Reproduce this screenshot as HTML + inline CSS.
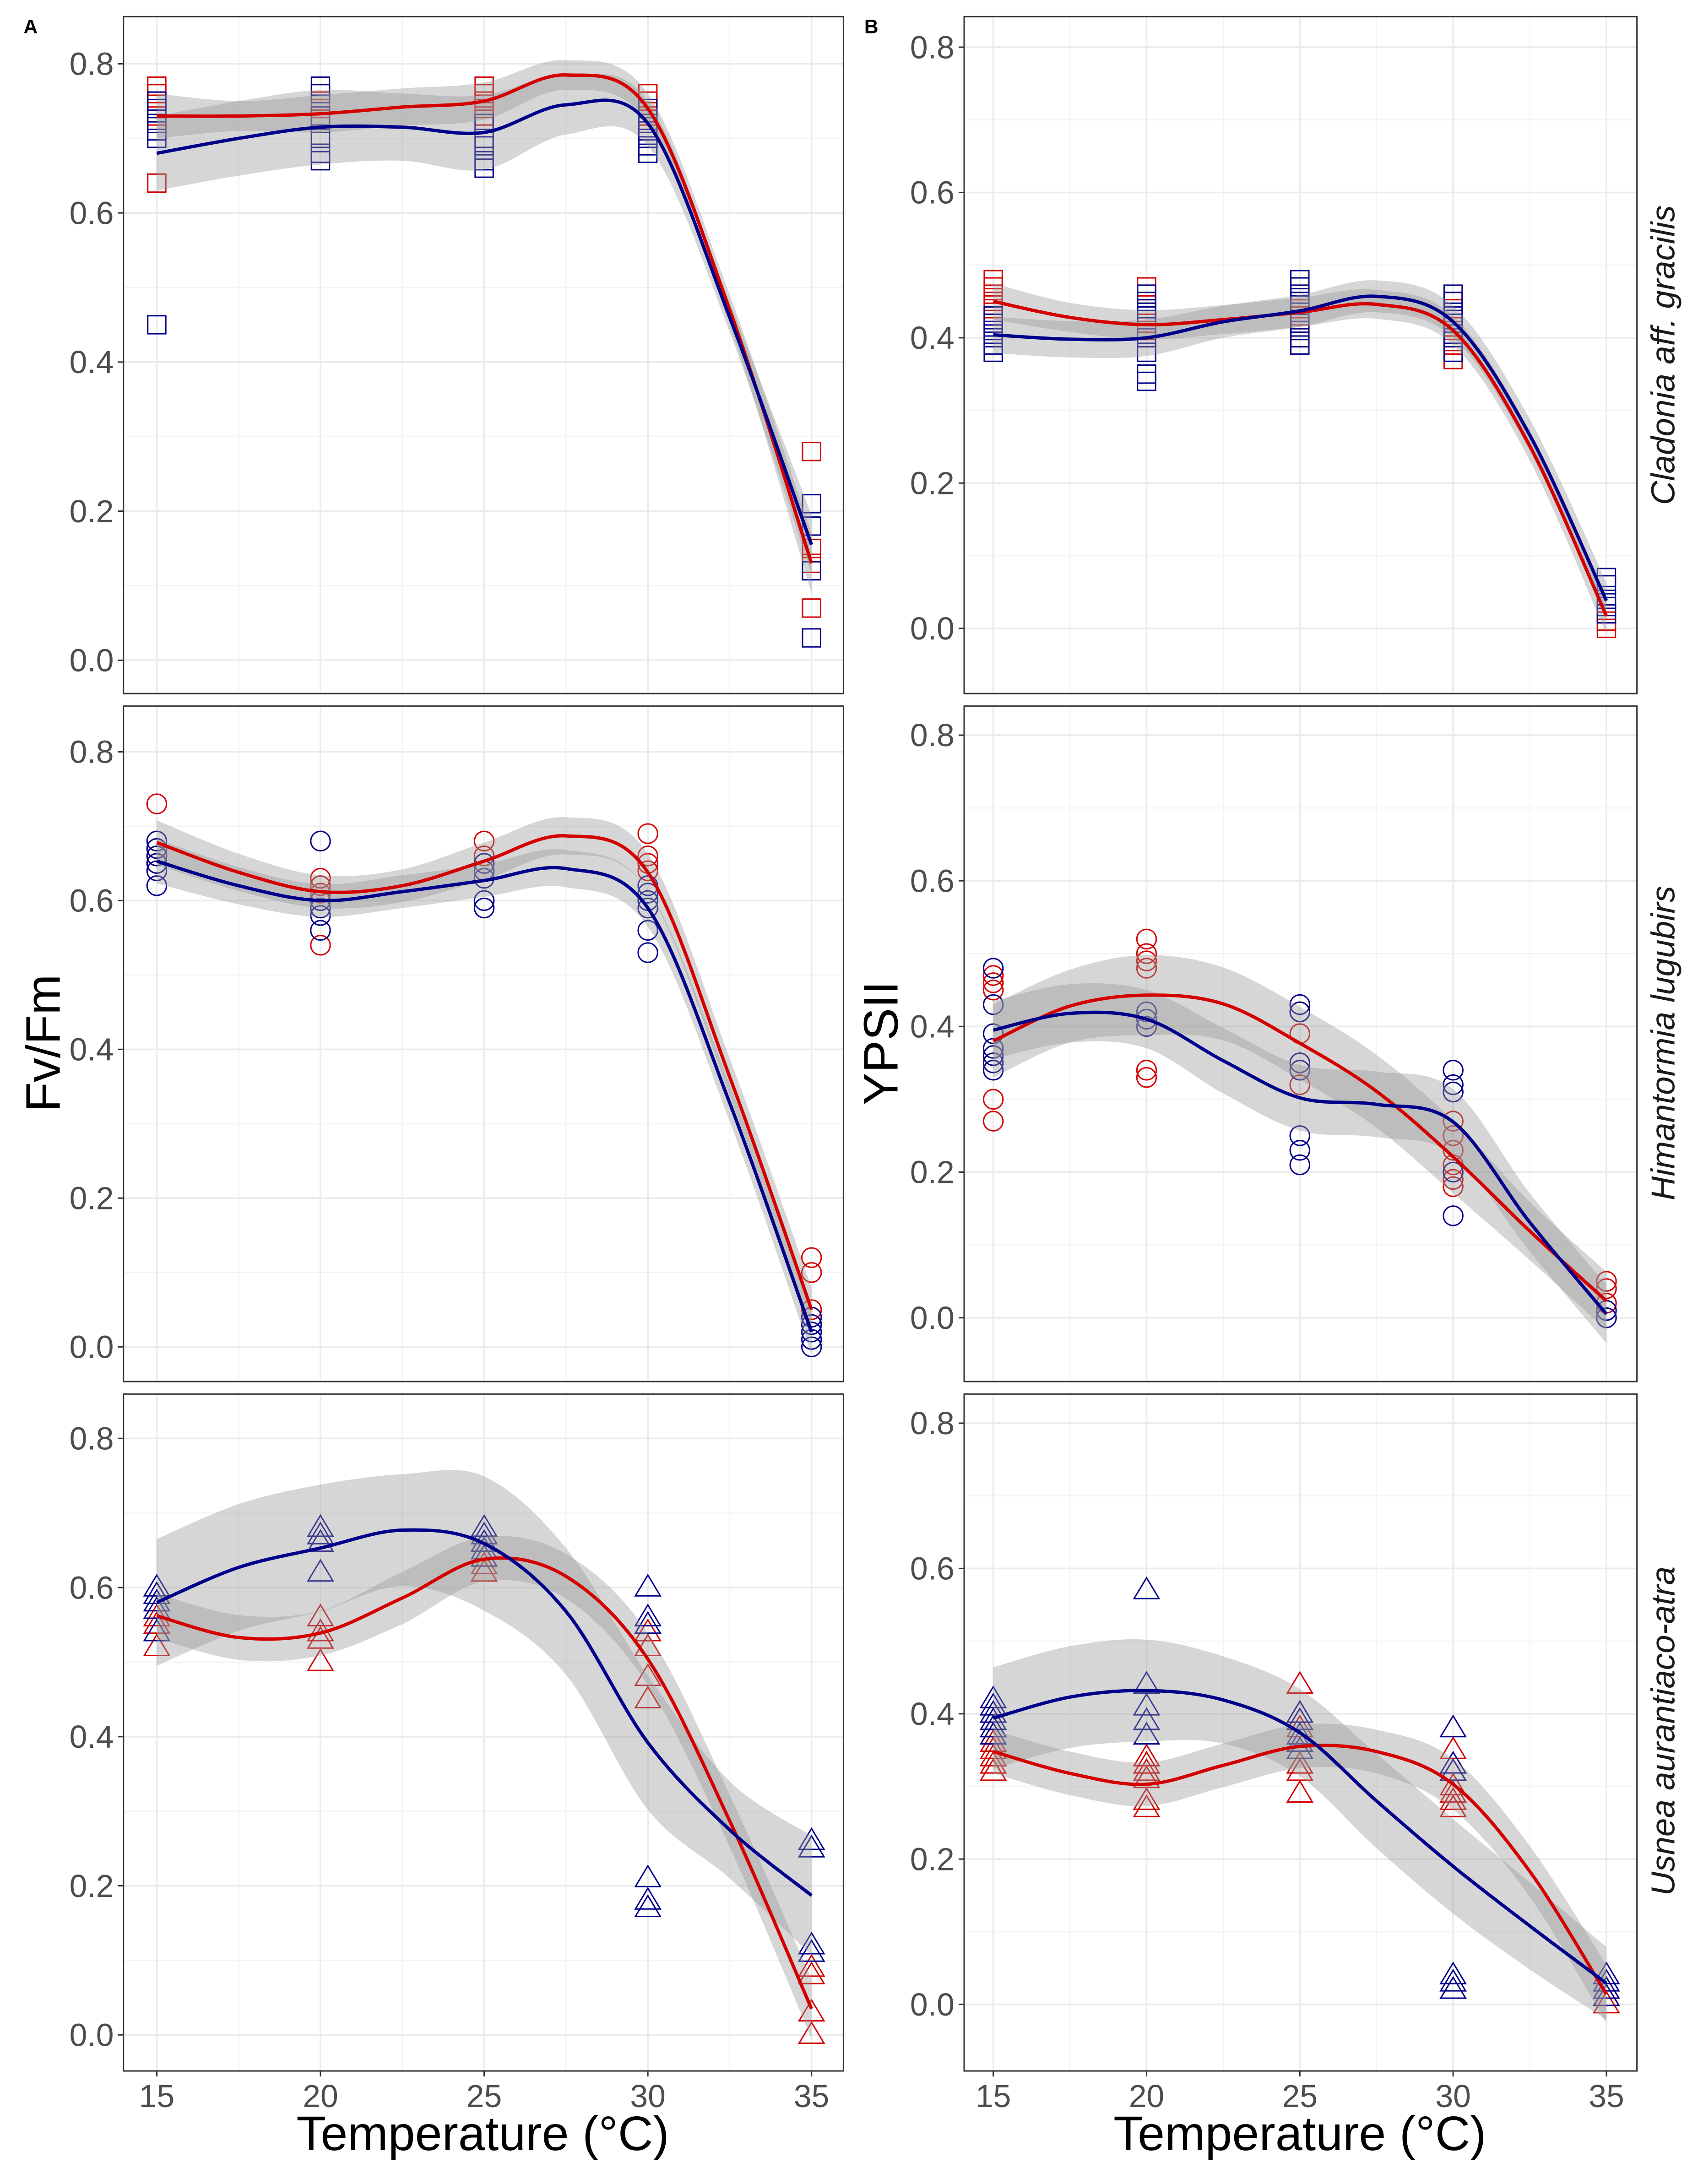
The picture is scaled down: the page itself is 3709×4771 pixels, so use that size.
<!DOCTYPE html>
<html><head><meta charset="utf-8"><style>
html,body{margin:0;padding:0;background:#fff;}
svg{display:block;font-family:"Liberation Sans",Arial,sans-serif;}
</style></head><body>
<svg id="chart" width="3709" height="4771" viewBox="0 0 1224 1574.5" xmlns="http://www.w3.org/2000/svg">
<text x="17" y="24" font-size="14" font-weight="bold">A</text>
<text x="623" y="24" font-size="14" font-weight="bold">B</text>
<text transform="translate(43,752) rotate(-90)" text-anchor="middle" font-size="35">Fv/Fm</text>
<text transform="translate(647,752) rotate(-90)" text-anchor="middle" font-size="35">YPSII</text>
<text x="348" y="1550" text-anchor="middle" font-size="35">Temperature (°C)</text>
<text x="937" y="1550" text-anchor="middle" font-size="35">Temperature (°C)</text>
<text transform="translate(1207,256) rotate(-90)" text-anchor="middle" font-size="24" font-style="italic" fill="#1a1a1a">Cladonia aff. gracilis</text>
<text transform="translate(1207,752) rotate(-90)" text-anchor="middle" font-size="24" font-style="italic" fill="#1a1a1a">Himantormia lugubirs</text>
<text transform="translate(1207,1248) rotate(-90)" text-anchor="middle" font-size="24" font-style="italic" fill="#1a1a1a">Usnea aurantiaco-atra</text>
</svg>
<script>
const fitX = [15,17.5,20,22.5,25,27.5,30,32.5,35];
const temps = [15,20,25,30,35];
const yTicks = [0,0.2,0.4,0.6,0.8];
const yTickLabels = ["0.0","0.2","0.4","0.6","0.8"];
const xTickLabels = ["15","20","25","30","35"];

const a1RedFit = [.73,.73,.733,.742,.75,.785,.74,.47,.13];
const a1RedHw = [.03,.02,.025,.025,.025,.02,.02,.02,.04];
const a1BlueFit = [.68,.70,.715,.715,.708,.745,.72,.46,.155];
const a1BlueHw = [.05,.05,.05,.045,.05,.04,.03,.02,.04];
const a1RedPts = [[.77,.76,.75,.74,.73,.64],[.75,.74,.73,.72,.70,.68],[.77,.76,.75,.74,.73,.72],[.76,.75,.74,.73,.72],[.28,.15,.07,.13]];
const a1BluePts = [[.75,.74,.72,.71,.70,.45],[.77,.76,.73,.72,.70,.68,.67],[.72,.70,.69,.67,.66],[.74,.72,.71,.70,.69,.68],[.21,.18,.12,.03]];

const a2RedFit = [.678,.638,.612,.62,.653,.687,.638,.363,.05];
const a2RedHw = [.03,.025,.022,.022,.025,.025,.025,.025,.03];
const a2BlueFit = [.653,.62,.60,.612,.627,.643,.59,.328,.02];
const a2BlueHw = [.03,.025,.022,.022,.022,.025,.025,.025,.03];
const a2RedPts = [[.73,.67,.66,.65],[.63,.62,.61,.54],[.68,.66,.65],[.69,.66,.65,.64],[.12,.10,.05,.03]];
const a2BluePts = [[.68,.67,.66,.65,.64,.62],[.68,.60,.59,.58,.56],[.65,.64,.63,.60,.59],[.62,.61,.60,.59,.56,.53],[.04,.03,.02,.01,0]];

const a3RedFit = [.562,.533,.539,.586,.638,.615,.504,.287,.035];
const a3RedHw = [.03,.03,.03,.035,.03,.03,.035,.035,.04];
const a3BlueFit = [.58,.627,.653,.677,.659,.568,.392,.275,.187];
const a3BlueHw = [.085,.085,.085,.075,.09,.085,.09,.065,.08];
const a3RedPts = [[.56,.55,.52],[.56,.54,.53,.50],[.66,.65,.64,.63,.62],[.54,.52,.48,.45],[.09,.08,.03,0]];
const a3BluePts = [[.60,.59,.58,.57,.54],[.68,.67,.66,.62],[.68,.67,.66,.65,.64],[.60,.56,.55,.21,.18,.17],[.26,.25,.12,.11]];

const b1RedFit = [.45,.428,.418,.425,.435,.446,.41,.251,.017];
const b1RedHw = [.025,.02,.02,.02,.02,.02,.02,.02,.025];
const b1BlueFit = [.404,.398,.40,.422,.437,.457,.422,.266,.038];
const b1BlueHw = [.025,.025,.025,.022,.022,.022,.022,.022,.025];
const b1RedPts = [[.48,.47,.46,.45,.44,.43,.42,.41],[.47,.46,.44,.42,.41,.40],[.46,.45,.44,.43,.42,.41,.40],[.45,.44,.41,.39,.37],[.02,.01,0]];
const b1BluePts = [[.43,.42,.41,.40,.39,.38],[.46,.45,.44,.43,.40,.38,.35,.34],[.48,.47,.46,.45,.42,.41,.40,.39],[.46,.45,.43,.42,.40,.38],[.07,.06,.04,.03,.02]];

const b2RedFit = [.38,.428,.443,.431,.377,.311,.221,.119,.023];
const b2RedHw = [.05,.05,.055,.05,.05,.05,.05,.04,.04];
const b2BlueFit = [.395,.418,.41,.353,.302,.293,.269,.131,.005];
const b2BlueHw = [.04,.04,.04,.045,.045,.045,.045,.04,.04];
const b2RedPts = [[.47,.46,.45,.36,.30,.27],[.52,.50,.49,.48,.34,.33],[.42,.39,.35,.32],[.27,.25,.23,.21,.19,.18],[.05,.04,.02]];
const b2BluePts = [[.48,.43,.39,.37,.36,.35,.34],[.42,.41,.40],[.43,.42,.35,.34,.25,.23,.21],[.34,.32,.31,.20,.14],[.01,0]];

const b3RedFit = [.348,.318,.303,.329,.355,.348,.303,.183,.014];
const b3RedHw = [.03,.03,.03,.03,.03,.03,.035,.035,.04];
const b3BlueFit = [.394,.423,.432,.419,.374,.28,.19,.108,.029];
const b3BlueHw = [.07,.07,.07,.06,.06,.065,.065,.06,.05];
const b3RedPts = [[.38,.37,.36,.35,.34,.33,.32],[.34,.33,.32,.31,.28,.27],[.44,.40,.38,.35,.33,.32,.29],[.35,.32,.30,.29,.28,.27],[.02,.01,0]];
const b3BluePts = [[.42,.41,.40,.39,.38,.37],[.57,.44,.41,.39,.37],[.40,.39,.37,.36,.35],[.38,.33,.32,.04,.03,.02],[.04,.03,.02,.01]];

const NS = "http://www.w3.org/2000/svg";
const svg = document.getElementById('chart');
const RED = "#d40000", BLUE = "#00008b";

function mk(tag, attrs, parent){
  const e = document.createElementNS(NS, tag);
  for (const k in attrs) e.setAttribute(k, attrs[k]);
  (parent||svg).appendChild(e);
  return e;
}
function crPath(pts){
  let d = "M" + pts[0][0] + "," + pts[0][1];
  for (let i=0;i<pts.length-1;i++){
    const p0 = pts[i-1]||pts[i], p1 = pts[i], p2 = pts[i+1], p3 = pts[i+2]||pts[i+1];
    const c1x = p1[0]+(p2[0]-p0[0])/6, c1y = p1[1]+(p2[1]-p0[1])/6;
    const c2x = p2[0]-(p3[0]-p1[0])/6, c2y = p2[1]-(p3[1]-p1[1])/6;
    d += " C"+c1x+","+c1y+" "+c2x+","+c2y+" "+p2[0]+","+p2[1];
  }
  return d;
}

function panel(cfg){
  const {x0,x1,top,bottom,px15,px35,py0,py8,shape,red,blue,name,bottomRow} = cfg;
  const sx = v => px15 + (v-15)*(px35-px15)/20;
  const sy = v => py0 + v*(py8-py0)/0.8;
  const g = mk('g',{});
  
  
  for (let v=0.1; v<=0.8; v+=0.2){ const y=sy(v); if(y>top&&y<bottom){ const l=mk('line',{x1:x0,x2:x1,y1:y,y2:y,stroke:"#f3f3f3","stroke-width":0.8},g);   } }
  for (let t=17.5; t<35; t+=5){ const x=sx(t); const l=mk('line',{x1:x,x2:x,y1:top,y2:bottom,stroke:"#f3f3f3","stroke-width":0.8},g);   }
  yTicks.forEach((v,i)=>{ const y=sy(v);
    const l=mk('line',{x1:x0,x2:x1,y1:y,y2:y,stroke:"#ebebeb","stroke-width":1.2},g);
     
    const tk=mk('line',{x1:x0-4,x2:x0,y1:y,y2:y,stroke:"#333","stroke-width":1},g);
     
    const tx=mk('text',{x:x0-7,y:y+8,"text-anchor":"end","font-size":23,fill:"#4d4d4d"},g);
    tx.textContent=yTickLabels[i];
     
  });
  temps.forEach((t,i)=>{ const x=sx(t);
    const l=mk('line',{x1:x,x2:x,y1:top,y2:bottom,stroke:"#ebebeb","stroke-width":1.2},g);
     
    if(bottomRow){
      const tk=mk('line',{x1:x,x2:x,y1:bottom,y2:bottom+4,stroke:"#333","stroke-width":1},g);
       
      const tx=mk('text',{x:x,y:bottom+26,"text-anchor":"middle","font-size":23,fill:"#4d4d4d"},g);
      tx.textContent=xTickLabels[i];
       
    }
  });
  [[red,RED,'red'],[blue,BLUE,'blue']].forEach(([s,col,nm])=>{
    s.pts.forEach((arr,i)=>{ arr.forEach(v=>{
      const x=sx(temps[i]), y=sy(v); let e;
      if(shape==='square') e=mk('rect',{x:x-6.5,y:y-6.5,width:13,height:13,fill:"none",stroke:col,"stroke-width":1},g);
      else if(shape==='circle') e=mk('circle',{cx:x,cy:y,r:7,fill:"none",stroke:col,"stroke-width":1},g);
      else e=mk('polygon',{points:(x-9)+","+(y+6)+" "+(x+9)+","+(y+6)+" "+x+","+(y-9),fill:"none",stroke:col,"stroke-width":1},g);
      
      
    });});
  });
  [[red,'red'],[blue,'blue']].forEach(([s,nm])=>{
    const up = fitX.map((t,i)=>[sx(t),sy(s.fit[i]+s.hw[i])]);
    const lo = fitX.map((t,i)=>[sx(t),sy(s.fit[i]-s.hw[i])]).reverse();
    const lp = crPath(lo);
    const d = crPath(up) + " L" + lo[0][0]+","+lo[0][1] + lp.slice(lp.indexOf(" C")) + " Z";
    const r=mk('path',{d:d,fill:"#999999","fill-opacity":0.4,stroke:"none"},g);
    
    
  });
  [[red,RED,'red'],[blue,BLUE,'blue']].forEach(([s,col,nm])=>{
    const p = fitX.map((t,i)=>[sx(t),sy(s.fit[i])]);
    const l=mk('path',{d:crPath(p),fill:"none",stroke:col,"stroke-width":2.4},g);
    
    
  });
  const b=mk('rect',{x:x0,y:top,width:x1-x0,height:bottom-top,fill:"none",stroke:"#333","stroke-width":1},g);
  
  
}

const A = {x0:89,x1:608,px15:113,px35:585};
const B = {x0:695,x1:1180,px15:716,px35:1158};
const rows = [[12,500],[509,996],[1005,1493]];
panel({...A,top:rows[0][0],bottom:rows[0][1],py0:476,py8:46,shape:'square',name:'panel-a-cladonia',red:{fit:a1RedFit,hw:a1RedHw,pts:a1RedPts},blue:{fit:a1BlueFit,hw:a1BlueHw,pts:a1BluePts}});
panel({...A,top:rows[1][0],bottom:rows[1][1],py0:971,py8:542,shape:'circle',name:'panel-a-himantormia',red:{fit:a2RedFit,hw:a2RedHw,pts:a2RedPts},blue:{fit:a2BlueFit,hw:a2BlueHw,pts:a2BluePts}});
panel({...A,top:rows[2][0],bottom:rows[2][1],py0:1467,py8:1037,shape:'triangle',bottomRow:true,name:'panel-a-usnea',red:{fit:a3RedFit,hw:a3RedHw,pts:a3RedPts},blue:{fit:a3BlueFit,hw:a3BlueHw,pts:a3BluePts}});
panel({...B,top:rows[0][0],bottom:rows[0][1],py0:453,py8:34,shape:'square',name:'panel-b-cladonia',red:{fit:b1RedFit,hw:b1RedHw,pts:b1RedPts},blue:{fit:b1BlueFit,hw:b1BlueHw,pts:b1BluePts}});
panel({...B,top:rows[1][0],bottom:rows[1][1],py0:950,py8:530,shape:'circle',name:'panel-b-himantormia',red:{fit:b2RedFit,hw:b2RedHw,pts:b2RedPts},blue:{fit:b2BlueFit,hw:b2BlueHw,pts:b2BluePts}});
panel({...B,top:rows[2][0],bottom:rows[2][1],py0:1445,py8:1026,shape:'triangle',bottomRow:true,name:'panel-b-usnea',red:{fit:b3RedFit,hw:b3RedHw,pts:b3RedPts},blue:{fit:b3BlueFit,hw:b3BlueHw,pts:b3BluePts}});
</script>
</body></html>
